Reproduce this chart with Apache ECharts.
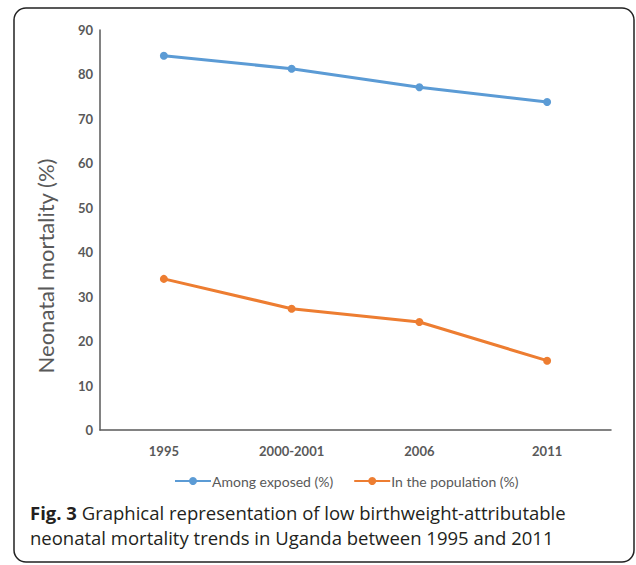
<!DOCTYPE html>
<html>
<head>
<meta charset="utf-8">
<script src="https://cdn.jsdelivr.net/npm/echarts@6/dist/echarts.min.js"></script>
<style>
html,body{margin:0;padding:0;background:#fff;}
#chart{width:636px;height:565px;}
</style>
</head>
<body>
<div id="chart"></div>
<script>
const categories = ['1995', '2000-2001', '2006', '2011'];
const amongExposed = [84.2, 81.3, 77.1, 73.8];
const inPopulation = [34.0, 27.3, 24.3, 15.6];
const seriesNames = ['Among exposed (%)', 'In the population (%)'];
const yAxisTitle = 'Neonatal mortality (%)';
const captionBold = 'Fig. 3';
const captionLine1 = ' Graphical representation of low birthweight-attributable';
const captionLine2 = 'neonatal mortality trends in Uganda between 1995 and 2011';

const chart = echarts.init(document.getElementById('chart'), null, {renderer: 'svg'});
const labelFont = 'Lato, "Open Sans", sans-serif';
const capFont = '"Open Sans", sans-serif';
chart.setOption({
  animation: false,
  backgroundColor: '#ffffff',
  grid: {left: 100, right: 25, top: 30, bottom: 135, containLabel: false},
  legend: {
    left: 169, top: 469,
    itemWidth: 36, itemHeight: 10, itemGap: 20,
    textStyle: {color: '#595959', fontSize: 14, fontFamily: labelFont, padding: [0,0,0,-4]},
    data: seriesNames
  },
  xAxis: {
    type: 'category', data: categories, boundaryGap: true,
    axisLine: {lineStyle: {color: '#595959', width: 1.5}},
    axisTick: {show: false},
    axisLabel: {color: '#595959', fontSize: 13, fontWeight: 'bold', fontFamily: labelFont, margin: 14}
  },
  yAxis: {
    type: 'value', min: 0, max: 90, interval: 10,
    axisLine: {show: true, lineStyle: {color: '#595959', width: 1.5}},
    axisTick: {show: false},
    splitLine: {show: false},
    axisLabel: {color: '#595959', fontSize: 13, fontWeight: 'bold', fontFamily: labelFont, margin: 7}
  },
  series: [
    {name: seriesNames[0], type: 'line', data: amongExposed, color: '#5B9BD5',
     symbol: 'circle', symbolSize: 8, lineStyle: {width: 3}},
    {name: seriesNames[1], type: 'line', data: inPopulation, color: '#ED7D31',
     symbol: 'circle', symbolSize: 8, lineStyle: {width: 3}}
  ],
  graphic: [
    {type: 'rect', shape: {x: 14, y: 8, width: 620, height: 554, r: 12},
     style: {fill: 'none', stroke: '#222', lineWidth: 1.5}, silent: true},
    {type: 'text', x: 45, y: 266, rotation: Math.PI / 2,
     style: {text: yAxisTitle, fill: '#595959', fontSize: 22, fontFamily: labelFont,
             align: 'center', verticalAlign: 'middle'}},
    {type: 'text', x: 30, y: 512,
     style: {text: '{b|' + captionBold + '}' + captionLine1,
             rich: {b: {fontWeight: 'bold', fontSize: 18.5, fontFamily: capFont, fill: '#231f20'}},
             fill: '#231f20', fontSize: 18.5, fontFamily: capFont,
             verticalAlign: 'middle'}},
    {type: 'text', x: 30, y: 537,
     style: {text: captionLine2, fill: '#231f20', fontSize: 18.5, fontFamily: capFont,
             verticalAlign: 'middle'}}
  ]
});
</script>
</body>
</html>
